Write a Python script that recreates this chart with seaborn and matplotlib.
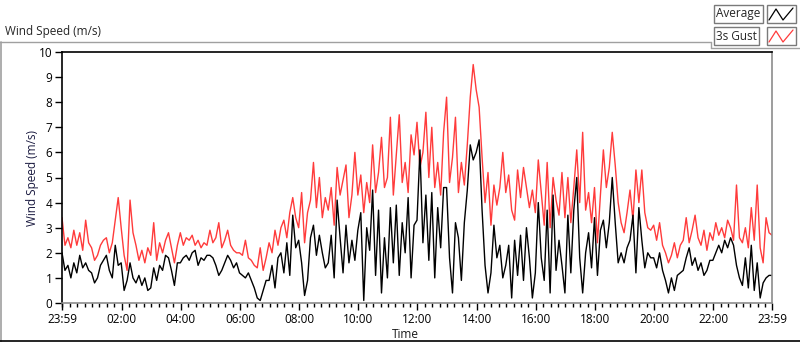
import numpy as np
import pandas as pd
import seaborn as sns
import matplotlib
matplotlib.use("Agg")
import matplotlib.pyplot as plt
import matplotlib.dates as mdates
from matplotlib.lines import Line2D

# values, one every 6 minutes from 23:59 to 23:59
gust = [
    3.4, 2.3, 2.6, 2.2, 2.9, 2.3, 2.8, 2.1, 3.3, 2.4,
    2.2, 1.7, 1.9, 2.3, 2.5, 2.6, 2.0, 2.4, 3.3, 4.2,
    3.0, 1.9, 1.3, 4.1, 2.8, 2.3, 1.7, 2.1, 1.6, 2.2,
    1.9, 3.2, 1.7, 2.4, 2.0, 2.5, 2.8, 2.2, 1.6, 2.3,
    2.8, 2.3, 2.6, 2.5, 2.7, 2.3, 2.5, 2.2, 2.4, 2.3,
    2.9, 2.4, 2.6, 3.2, 2.2, 2.5, 2.9, 2.3, 2.1, 2.0,
    2.0, 1.9, 2.5, 1.8, 1.7, 1.5, 1.4, 2.2, 1.3, 1.8,
    2.4, 2.0, 2.9, 2.3, 3.0, 3.3, 2.6, 3.6, 4.2, 3.4,
    3.0, 4.4, 2.4, 3.6, 4.1, 5.6, 3.8, 5.0, 3.4, 4.2,
    3.7, 4.6, 3.1, 5.4, 4.3, 4.9, 5.5, 3.4, 4.3, 6.0,
    4.3, 5.1, 3.6, 4.8, 4.0, 6.3, 4.4, 5.2, 6.6, 4.6,
    5.0, 7.4, 4.3, 5.9, 7.5, 4.8, 5.6, 4.4, 6.7, 5.9,
    7.2, 5.4, 6.0, 7.6, 5.0, 7.0, 4.6, 5.6, 4.3, 6.8,
    8.2, 4.8, 5.8, 7.4, 4.4, 5.6, 4.7, 6.3, 8.2, 9.5,
    8.5, 7.8, 5.8, 4.0, 5.2, 3.1, 4.7, 3.9, 4.6, 6.0,
    4.4, 5.1, 3.7, 3.3, 5.3, 4.2, 5.4, 4.6, 3.8, 4.5,
    3.6, 5.7, 4.4, 3.1, 5.6, 3.0, 5.0, 4.1, 3.5, 5.2,
    3.4, 5.0, 3.2, 4.6, 6.1, 4.0, 6.8, 3.7, 4.4, 3.2,
    4.6, 2.4, 4.3, 6.1, 4.6, 5.4, 6.8, 5.5, 4.0, 3.2,
    2.8, 3.6, 4.5, 3.3, 5.3, 4.0, 5.3, 3.6, 3.0, 2.9,
    3.1, 2.5, 3.2, 2.3, 2.0, 1.6, 1.9, 2.4, 1.8, 2.3,
    2.5, 3.4, 2.4, 2.9, 3.5, 2.6, 2.3, 2.9, 2.1, 2.8,
    2.5, 3.2, 2.7, 3.0, 2.6, 3.3, 3.0, 2.5, 4.7, 2.6,
    2.4, 3.0, 2.2, 3.8, 2.5, 4.7, 2.2, 1.6, 3.4, 2.8,
    2.7,
]
average = [
    2.0, 1.3, 1.5, 1.0, 1.6, 1.2, 1.9, 1.4, 1.6, 1.3,
    1.2, 0.8, 1.0, 1.5, 1.7, 1.9, 1.3, 1.0, 2.3, 1.5,
    1.6, 0.5, 0.9, 1.6, 1.0, 0.8, 1.1, 0.7, 1.0, 0.5,
    0.6, 1.4, 0.9, 1.5, 1.3, 1.9, 1.8, 1.3, 0.7, 1.6,
    1.6, 1.8, 1.9, 1.7, 2.0, 2.1, 1.5, 1.8, 1.7, 1.9,
    1.9, 1.8, 1.5, 1.1, 1.3, 1.6, 1.9, 1.7, 1.4, 1.6,
    1.2, 1.1, 1.0, 1.2, 0.9, 0.6, 0.2, 0.1, 0.5, 0.9,
    0.9, 1.5, 0.6, 1.8, 2.0, 1.2, 2.4, 1.1, 3.5, 2.2,
    2.5, 1.6, 0.3, 0.9, 2.6, 3.1, 1.9, 2.7, 2.0, 1.4,
    1.6, 2.7, 1.0, 4.1, 2.6, 1.2, 3.1, 1.6, 2.5, 1.7,
    2.9, 3.6, 0.1, 3.0, 2.1, 4.5, 1.1, 3.7, 0.4, 2.6,
    1.0, 3.8, 1.6, 3.9, 1.1, 3.2, 2.0, 4.2, 1.0, 3.1,
    3.3, 6.1, 2.4, 4.3, 1.7, 4.4, 1.0, 3.8, 2.2, 4.6,
    4.6, 1.8, 0.4, 3.2, 2.6, 0.9, 3.2, 4.5, 6.3, 5.7,
    6.0, 6.5, 3.7, 1.5, 0.4, 1.2, 3.1, 1.8, 2.3, 1.0,
    1.5, 2.3, 0.2, 2.5, 1.1, 2.7, 0.9, 3.0, 1.8, 0.2,
    1.2, 4.0, 1.8, 0.9, 3.7, 0.4, 4.3, 1.3, 2.5, 1.5,
    0.4, 3.5, 1.2, 3.7, 5.0, 1.8, 0.4, 2.0, 2.8, 1.4,
    3.4, 1.1, 2.9, 3.3, 2.2, 3.2, 5.0, 3.2, 1.6, 2.0,
    1.6, 2.2, 2.5, 3.5, 1.2, 3.8, 2.5, 1.4, 2.0, 1.8,
    1.8, 1.4, 2.0, 1.3, 0.9, 0.4, 1.0, 0.5, 1.1, 1.2,
    1.3, 1.8, 2.2, 1.5, 1.8, 1.3, 1.6, 1.1, 1.3, 1.7,
    1.7, 2.0, 2.3, 2.0, 2.5, 2.2, 2.6, 2.3, 1.5, 1.0,
    0.7, 1.8, 0.6, 2.3, 0.5, 1.6, 0.2, 0.8, 1.0, 1.1,
    1.1,
]
series_names = ["Average", "3s Gust"]
series_colors = ["black", "#ff3b3b"]

start = pd.Timestamp("2000-01-01 23:59")
times = pd.date_range(start, periods=len(gust), freq="6min")
end = times[-1]

df = pd.DataFrame({"Time": times, "3s Gust": gust, "Average": average})

sns.set_style("white")
plt.rcParams["font.family"] = ["Open Sans", "DejaVu Sans"]
plt.rcParams["font.size"] = 8.5

fig = plt.figure(figsize=(8, 3.42), dpi=100)
ax = fig.add_axes([62 / 800, 1 - 303 / 342, 710 / 800, 251 / 342])

sns.lineplot(data=df, x="Time", y="3s Gust", color=series_colors[1], linewidth=1.0, ax=ax)
sns.lineplot(data=df, x="Time", y="Average", color=series_colors[0], linewidth=1.0, ax=ax)

ax.set_xlim(start, end)
ax.set_ylim(0, 10)
ax.set_yticks(range(0, 11))
major = [start] + [pd.Timestamp(f"2000-01-02 {h:02d}:00") for h in range(2, 23, 2)] + [end]
ax.set_xticks(major)
ax.xaxis.set_major_formatter(mdates.DateFormatter("%H:%M"))
ax.xaxis.set_minor_locator(mdates.MinuteLocator(byminute=[0, 15, 30, 45]))
ax.tick_params(axis="both", which="major", direction="out", length=5, width=1,
               labelsize=8.5, colors="black", pad=2)
ax.tick_params(axis="x", which="minor", direction="out", length=3, width=1, color="black")
ax.tick_params(axis="x", which="both", bottom=True)
ax.tick_params(axis="y", left=True)

ax.set_xlabel("Time", fontsize=8.5, color="#1a1a1a")
ax.xaxis.set_label_coords(0.483, -0.1)
ax.set_ylabel("Wind Speed (m/s)", fontsize=8.5, color="#1a1a40")
ax.yaxis.set_label_coords(-0.033, 0.5)

for side in ["left", "top"]:
    ax.spines[side].set_color("black")
    ax.spines[side].set_linewidth(1.2)
for side in ["bottom", "right"]:
    ax.spines[side].set_color("#8c8c8c")
    ax.spines[side].set_linewidth(1.2)

# panel frame
fig.add_artist(Line2D([0, 711 / 800], [1 - 42 / 342] * 2, color="#a0a0a0", lw=1))
fig.add_artist(Line2D([711 / 800] * 2, [1 - 42 / 342, 1 - 48 / 342], color="#a0a0a0", lw=1))
fig.add_artist(Line2D([711 / 800, 800 / 800], [1 - 48 / 342] * 2, color="#a0a0a0", lw=1))
fig.add_artist(Line2D([1 / 800] * 2, [1 - 42 / 342, 0], color="#a0a0a0", lw=1.2))
fig.add_artist(Line2D([0, 1], [1 / 342] * 2, color="black", lw=1.2))

fig.text(5 / 800, 1 - 31 / 342, "Wind Speed (m/s)", fontsize=8.5, va="center", ha="left")

# legend
for i, (name, col) in enumerate(zip(series_names, series_colors)):
    yc = 1 - (14 + 22 * i) / 342
    fig.text(716 / 800, yc, name, fontsize=8.5, va="center", ha="left",
             bbox=dict(boxstyle="square,pad=0.2", fc="white", ec="#7a7a7a", lw=1))
    fig.add_artist(plt.Rectangle((767 / 800, yc - 9 / 342), 29 / 800, 18 / 342,
                                 fc="white", ec="#7a7a7a", lw=1))
    xs = np.array([769, 776, 783, 793]) / 800
    ys = yc + np.array([-6, 5, -6, 6]) / 342
    fig.add_artist(Line2D(xs, ys, color=col, lw=0.9))

fig.savefig("out.png", dpi=100)
